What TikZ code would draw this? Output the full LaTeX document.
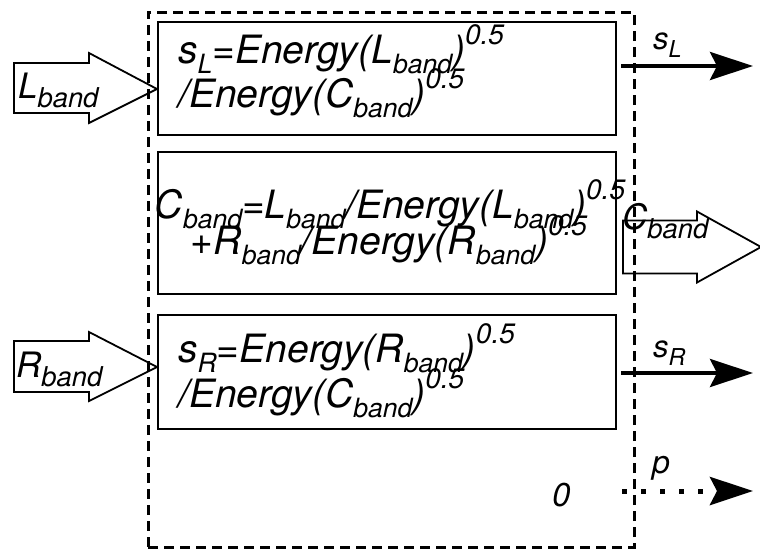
\documentclass[tikz,border=0pt]{standalone}
\usepackage{fontspec}
\setmainfont{TeX Gyre Heros}
\usepackage{tikz}
\usetikzlibrary{arrows.meta,positioning,calc}
\newcommand{\lo}[2][0.68]{\raisebox{-0.27em}{\scalebox{#1}{#2}}}
\newcommand{\hi}[1]{\raisebox{0.47em}{\scalebox{0.72}{#1}}}

\begin{document}
\begin{tikzpicture}[x=1pt,y=-1pt,every node/.style={font=\itshape},
  box/.style={draw,line width=2pt,minimum width=458pt,inner sep=0pt},
  eqn/.style={inner sep=0pt,anchor=base west,font=\itshape\fontsize{39}{44}\selectfont},
  lbl/.style={inner sep=0pt,anchor=base west},
  blk/.style={line width=1.8pt,line join=miter},
  outarr/.style={line width=4pt,-{Stealth[length=43pt,width=28pt,inset=7pt]}}]
  \useasboundingbox (0,0) rectangle (760,549);
  % dashed system boundary
  \node[draw,dash pattern=on 10pt off 6pt,line width=3pt,
        minimum width=486pt,minimum height=535pt] (sys) at (391,279.5) {};
  % the three blocks
  \node[box,minimum height=113pt] (b1) at (387,78.5) {};
  \node[box,minimum height=142pt] (b2) at (387,223) {};
  \node[box,minimum height=114pt] (b3) at (387,372) {};
  \node[eqn] (t1a) at (178,63) {s\lo{L}=Energy(L\lo{band})\hi{0.5}};
  \node[eqn] (t1b) at (178,107) {/Energy(C\lo{band})\hi{0.5}};
  \node[eqn,anchor=base] (t2a) at (390,218) {C\lo{band}=L\lo{band}/Energy(L\lo{band})\hi{0.5}};
  \node[eqn,anchor=base] (t2b) at (389,254) {+R\lo{band}/Energy(R\lo{band})\hi{0.5}};
  \node[eqn] (t3a) at (178,362) {s\lo{R}=Energy(R\lo{band})\hi{0.5}};
  \node[eqn] (t3b) at (178,407) {/Energy(C\lo{band})\hi{0.5}};
  % block arrows in and out
  \coordinate (Ltip) at ($(b1.west)+(0,10.5)$);
  \coordinate (Rtip) at ($(b3.west)+(0,-5)$);
  \coordinate (Ctail) at ($(b2.east)+(6,-2.5)$);
  \draw[blk] (Ltip) -- ++(-68,-36) -- ++(0,10) -- ++(-75,0) -- ++(0,50)
    -- ++(75,0) -- ++(0,10) -- cycle;
  \draw[blk] (Rtip) -- ++(-68,-35) -- ++(0,9) -- ++(-75,0) -- ++(0,51)
    -- ++(75,0) -- ++(0,9) -- cycle;
  \draw[blk] (Ctail) -- ++(74,0) -- ++(0,-9) -- ++(64,35.5) -- ++(-64,35.5)
    -- ++(0,-9) -- ++(-74,0) -- cycle;
  \node[lbl,font=\itshape\fontsize{35}{35}\selectfont] (lin) at (18,98) {L\lo[0.78]{band}};
  \node[lbl,font=\itshape\fontsize{35}{35}\selectfont] (rin) at (16,377) {R\lo[0.78]{band}};
  \node[lbl,font=\itshape\fontsize{35}{35}\selectfont] (cout) at (622,229) {C\lo[0.78]{band}};
  % side outputs
  \coordinate (sL0) at (621,66);  \coordinate (sL1) at (753,66);
  \coordinate (sR0) at (621,373); \coordinate (sR1) at (753,373);
  \coordinate (p0) at (622,491);  \coordinate (p1) at (753,491);
  \draw[outarr] (sL0) -- (sL1);
  \draw[outarr] (sR0) -- (sR1);
  \draw[outarr,line width=5pt,dash pattern=on 5pt off 14pt] (p0) -- (p1);
  \node[lbl,font=\itshape\fontsize{31}{31}\selectfont] (sl) at (653,49) {s\lo[0.75]{L}};
  \node[lbl,font=\itshape\fontsize{31}{31}\selectfont] (sr) at (653,357) {s\lo[0.75]{R}};
  \node[lbl,font=\itshape\fontsize{32}{32}\selectfont] (pl) at (652,473) {p};
  \node[lbl,font=\itshape\fontsize{33}{33}\selectfont] (zero) at (552,506) {0};
\end{tikzpicture}
\end{document}
